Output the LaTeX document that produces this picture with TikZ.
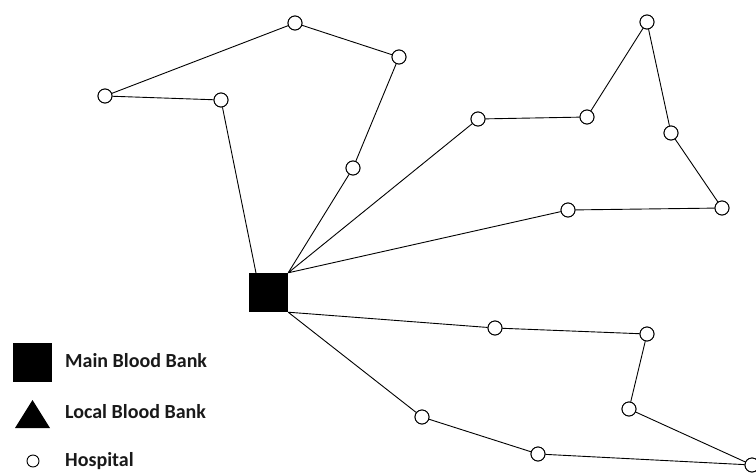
\documentclass[tikz,border=0pt]{standalone}
\usepackage{fontspec}
\setmainfont{Carlito}
\begin{document}
\begin{tikzpicture}[x=1pt,y=-1pt,
  hosp/.style={circle,draw,line width=0.9pt,fill=white,minimum size=14pt,inner sep=0pt},
  mainbank/.style={rectangle,fill=black,minimum size=39pt,inner sep=0pt},
  link/.style={line width=0.9pt},
  legtext/.style={anchor=west,font=\bfseries\fontsize{20}{20}\selectfont,inner sep=0pt,text=black!90}]
\useasboundingbox (0,0) rectangle (756,472);
\clip (0,0) rectangle (756,472);
% main blood bank
\node[mainbank] (S) at (268.5,292.5) {};
\coordinate (St) at (256,273);
% hospitals
\node[hosp] (A) at (105,96) {};
\node[hosp] (B) at (295,23) {};
\node[hosp] (C) at (399,57) {};
\node[hosp] (D) at (353,168) {};
\node[hosp] (E) at (221,100) {};
\node[hosp] (F) at (478,119) {};
\node[hosp] (G) at (587,117) {};
\node[hosp] (H) at (647,22) {};
\node[hosp] (I) at (671,133) {};
\node[hosp] (J) at (722,208) {};
\node[hosp] (K) at (568,210) {};
\node[hosp] (L) at (495,328) {};
\node[hosp] (M) at (647,334) {};
\node[hosp] (N) at (629,409) {};
\node[hosp] (O) at (752,465) {};
\node[hosp] (P) at (538,454) {};
\node[hosp] (Q) at (422,417) {};
% connectors
\draw[link] (St) -- (E) -- (A) -- (B) -- (C) -- (D) -- (S.north east);
\draw[link] (S.north east) -- (F) -- (G) -- (H) -- (I) -- (J) -- (K) -- (S.north east);
\draw[link] (S.south east) -- (L) -- (M) -- (N) -- (O) -- (P) -- (Q) -- (S.south east);
% redraw circles on top
\foreach \n in {A,B,C,D,E,F,G,H,I,J,K,L,M,N,O,P,Q}{\node[hosp] at (\n) {};}
% legend
\node[mainbank] (LS) at (32.5,362.5) {};
\node[legtext] (LT1) at (65,361) {Main Blood Bank};
\fill (15,428) -- (50,428) -- (32.5,400) -- cycle;
\node[legtext] (LT2) at (65,412) {Local Blood Bank};
\node[circle,draw,line width=0.9pt,minimum size=12pt,inner sep=0pt] (LC) at (33,461) {};
\node[legtext] (LT3) at (65,461) {Hospital};
\end{tikzpicture}
\end{document}
